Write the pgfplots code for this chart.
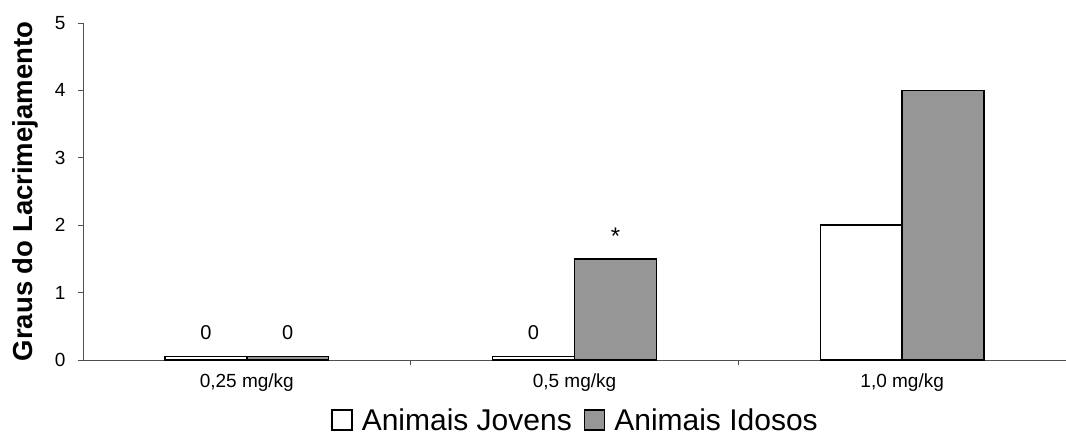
\documentclass[border=0pt]{standalone}
\usepackage{pgfplots}
\pgfplotsset{compat=1.18}
\usepackage{fontspec}
\setmainfont{Liberation Sans}
\definecolor{barGray}{RGB}{150,150,150}
\definecolor{axGray}{RGB}{80,80,80}
\pgfplotsset{sqlegend/.style={legend image code/.code={\path (-2bp,0) (27bp,0);\draw[##1, line width=1.2pt] (0bp,-10bp) rectangle (20bp,10bp);}}}
\begin{document}
\begin{tikzpicture}
\useasboundingbox (-83bp,-85bp) rectangle (983bp,360bp);
\begin{axis}[
  at={(0,0)}, anchor=south west,
  scale only axis, width=983bp, height=337bp,
  xmin=-0.5, xmax=2.5, ymin=0, ymax=5,
  axis x line*=bottom, axis y line*=left,
  axis line style={axGray, line width=0.8pt},
  tick style={axGray, line width=0.8pt},
  tick align=outside, major tick length=5bp,
  ytick={0,1,2,3,4,5},
  yticklabel style={font=\fontsize{19bp}{22bp}\selectfont, xshift=-9bp},
  /pgf/number format/assume math mode=true,
  xtick={0.5,1.5}, xticklabels={{},{}},
  extra x ticks={0,1,2},
  extra x tick labels={{0,25 mg/kg},{0,5 mg/kg},{1,0 mg/kg}},
  extra x tick style={major tick length=0pt, xticklabel style={font=\fontsize{19bp}{22bp}\selectfont, yshift=-10bp}},
  every axis y label/.style={at={(axis description cs:-0.059,0.5)}, rotate=90, anchor=center, font=\fontsize{27.5bp}{30bp}\bfseries},
  ylabel={Graus do Lacrimejamento},
  ybar, bar width=0.25,
  legend style={at={(0.5,-0.178)}, anchor=center, draw=none, legend columns=2,
    font=\fontsize{30bp}{36bp}\selectfont,
    /tikz/every even column/.append style={column sep=8bp}},
]
\addplot[sqlegend, bar shift=-0.125, draw=black, fill=white, line width=1.5pt] coordinates {(0,0.05) (1,0.05) (2,2)};
\addplot[sqlegend, bar shift=0.125, draw=black, fill=barGray, line width=1.5pt] coordinates {(0,0.05) (1,1.5) (2,4)};
\legend{Animais Jovens, Animais Idosos}
\node[anchor=base, font=\fontsize{20bp}{24bp}\selectfont] at (axis cs:-0.125,0.31) {0};
\node[anchor=base, font=\fontsize{20bp}{24bp}\selectfont] at (axis cs:0.125,0.31) {0};
\node[anchor=base, font=\fontsize{20bp}{24bp}\selectfont] at (axis cs:0.875,0.31) {0};
\node[anchor=base, font=\fontsize{24bp}{28bp}\selectfont] at (axis cs:1.125,1.71) {*};
\end{axis}
\end{tikzpicture}
\end{document}
